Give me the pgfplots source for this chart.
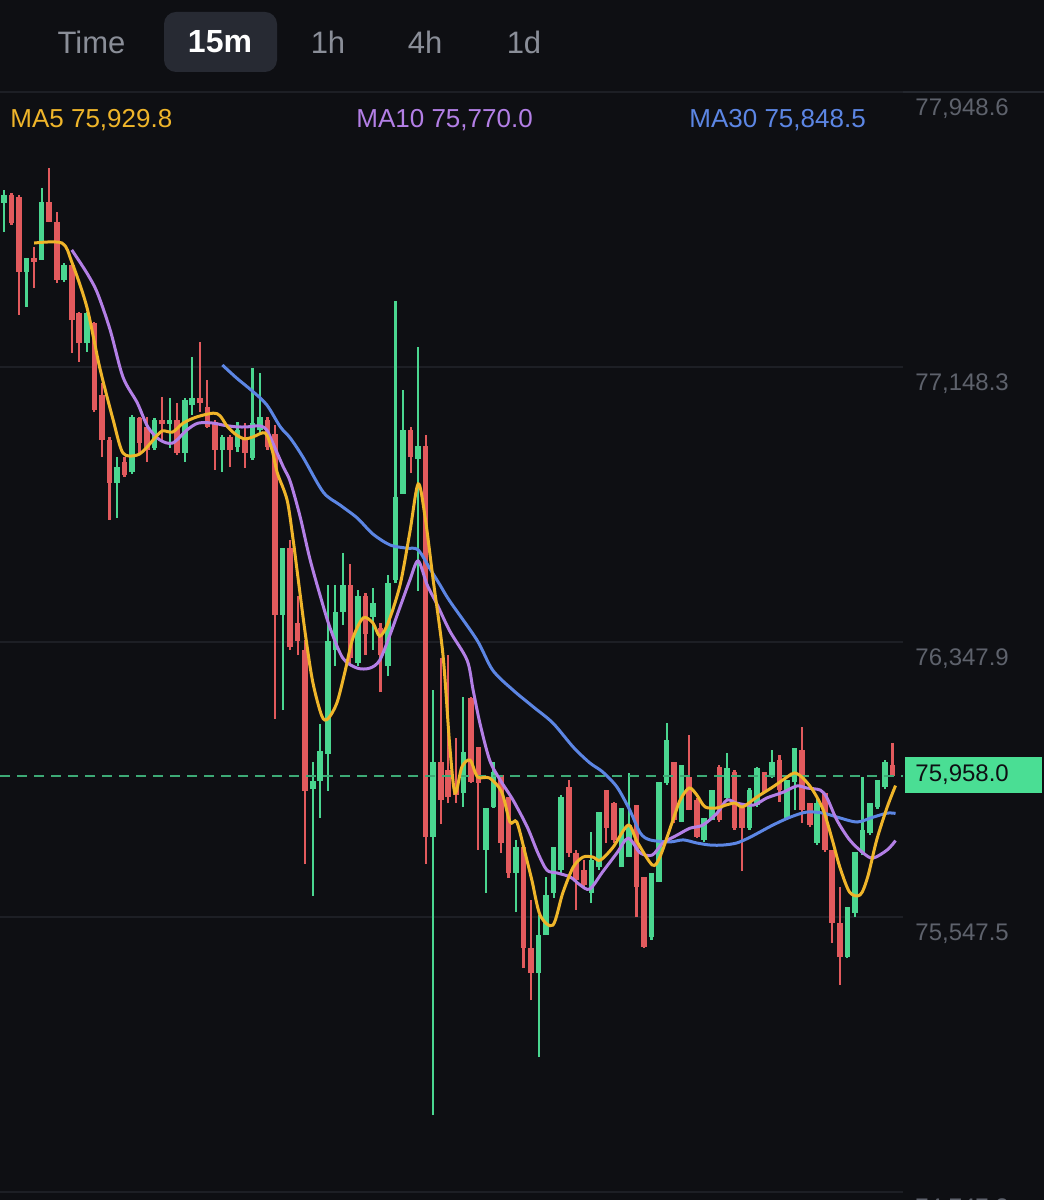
\documentclass[border=0pt]{standalone}
\usepackage{fontspec}
\setmainfont{Liberation Sans}
\usepackage{pgfplots}
\usepackage{pgfplotstable}
\pgfplotsset{compat=1.18}
\definecolor{bg}{HTML}{0E0F13}
\definecolor{gridc}{HTML}{1D1F25}
\definecolor{sepc}{HTML}{24272E}
\definecolor{tabtext}{HTML}{8A8E98}
\definecolor{tabbox}{HTML}{272A33}
\definecolor{labc}{HTML}{5E626C}
\definecolor{cgreen}{HTML}{4AD690}
\definecolor{cred}{HTML}{E25A5D}
\definecolor{cyellow}{HTML}{EFB52A}
\definecolor{cpurple}{HTML}{B37FE6}
\definecolor{cblue}{HTML}{5C86E4}
\definecolor{dashc}{HTML}{3DAA76}
\definecolor{boxc}{HTML}{4ADE94}

\pgfplotstableread{
i O H L C
0 77626 77664 77541 77649
3 77425 77466 77323 77466
5 77460 77669 77460 77629
8 77402 77451 77396 77445
11 77218 77308 77192 77305
15 76811 76886 76709 76857
17 76843 77009 76837 77003
20 76913 77000 76907 76994
22 76982 77058 76913 76994
24 76898 77058 76872 77052
25 77038 77177 77009 77058
29 76907 76950 76843 76945
31 76915 76988 76901 76965
33 76883 77145 76878 76985
34 76965 77131 76956 77003
37 76426 76621 76150 76621
41 75920 75999 75609 75943
42 75943 76109 75836 76031
43 76022 76514 75914 76351
44 76325 76514 76278 76435
45 76435 76607 76397 76514
47 76287 76499 76278 76482
49 76421 76505 76325 76461
51 76278 76543 76249 76520
52 76528 77340 76520 76770
53 76779 77081 76779 76965
55 76881 77207 76496 76918
57 75780 76208 74971 75999
61 75908 76188 75868 76028
64 75743 75865 75617 75865
65 75868 75999 75865 75970
68 75676 75772 75562 75751
71 75384 75553 75140 75495
72 75495 75664 75495 75612
73 75617 75751 75603 75751
74 75684 75903 75676 75897
78 75617 75795 75588 75713
79 75693 75853 75684 75853
82 75693 75865 75693 75865
83 75722 75967 75722 75815
86 75489 75676 75481 75676
87 75649 75940 75649 75940
88 75938 76112 75932 76063
90 75824 75990 75824 75990
93 75772 75836 75766 75836
94 75830 75917 75830 75917
96 75894 76025 75888 75981
99 75807 75923 75801 75917
100 75873 75984 75868 75981
102 75955 76034 75952 75999
104 75836 75946 75836 75946
105 75940 76039 75859 76039
108 75763 75897 75757 75879
112 75431 75577 75428 75577
113 75559 75737 75548 75737
114 75734 75955 75728 75801
115 75792 75879 75786 75879
116 75868 75946 75862 75946
117 75926 76004 75920 75999
}\greenc

\pgfplotstableread{
i O H L C
1 77649 77655 77562 77567
2 77643 77649 77300 77425
4 77466 77498 77378 77454
6 77629 77727 77570 77570
7 77570 77600 77393 77402
9 77445 77445 77189 77285
10 77305 77308 77163 77218
12 77276 77279 77017 77023
13 77067 77102 76886 76936
14 76936 76945 76703 76811
16 76872 76886 76828 76834
18 77000 77003 76898 76927
19 76974 77003 76872 76907
21 76994 77061 76930 76982
23 76994 77044 76892 76898
26 77058 77221 77017 77044
27 77032 77110 76971 76974
28 76988 76994 76849 76907
30 76945 76950 76857 76907
32 76945 76985 76855 76898
35 76994 77003 76907 76915
36 76953 76980 76124 76426
38 76621 76645 76325 76333
39 76403 76482 76310 76351
40 76325 76354 75702 75914
46 76514 76575 76278 76301
48 76482 76490 76310 76371
50 76389 76403 76202 76310
54 76965 76974 76840 76886
56 76918 76950 75702 75780
58 75999 76301 75818 75888
59 75975 76310 75879 75897
60 75938 76069 75879 75903
62 76185 76188 75938 75940
63 76042 76042 75743 75938
66 75961 75961 75734 75763
67 75897 75897 75661 75676
69 75751 75751 75399 75457
70 75457 75597 75306 75384
75 75926 75946 75722 75734
76 75734 75743 75568 75655
77 75684 75713 75632 75641
80 75917 75917 75763 75807
81 75879 75882 75763 75772
84 75873 75873 75548 75635
85 75664 75664 75457 75460
89 75999 75999 75821 75830
91 75955 76077 75859 75859
92 75888 75894 75778 75780
95 75984 75990 75824 75830
97 75970 75975 75801 75807
98 75865 75873 75681 75807
101 75970 75970 75908 75911
103 76004 76019 75882 75917
106 76034 76100 75821 75859
107 75879 75879 75809 75815
109 75908 75908 75737 75743
110 75743 75743 75472 75530
111 75530 75635 75350 75431
118 75990 76054 75955 75958
}\redc

\pgfplotsset{
  candle/.style n args={2}{only marks, mark=none, mark size=0pt,
    mark options={draw=none, fill=none, opacity=0}, forget plot,
    error bars/.cd, y dir=plus, y explicit, error mark=none,
    error bar style={draw=#1, line width=#2}},
}

\begin{document}
\begin{tikzpicture}
\useasboundingbox (0,0) rectangle (522pt,600pt);
\clip (0,0) rectangle (522pt,600pt);
\fill[bg] (0,0) rectangle (522pt,600pt);
% header tabs
\fill[tabbox, rounded corners=6pt] (82pt,564pt) rectangle (138.5pt,594pt);
\node[text=tabtext, font=\fontsize{15.5}{18}\selectfont] at (45.75pt,579pt) {Time};
\node[text=white, font=\fontsize{16}{18}\selectfont\bfseries] at (110pt,579pt) {15m};
\node[text=tabtext, font=\fontsize{15.5}{18}\selectfont] at (164pt,579pt) {1h};
\node[text=tabtext, font=\fontsize{15.5}{18}\selectfont] at (212.5pt,579pt) {4h};
\node[text=tabtext, font=\fontsize{15.5}{18}\selectfont] at (262pt,579pt) {1d};
\draw[sepc, line width=0.8pt] (0,554pt) -- (522pt,554pt);
% MA labels
\node[anchor=west, inner sep=0pt, text=cyellow, font=\fontsize{13}{15}\selectfont] at (5pt,540pt) {MA5 75,929.8};
\node[anchor=west, inner sep=0pt, text=cpurple, font=\fontsize{13}{15}\selectfont] at (178pt,540pt) {MA10 75,770.0};
\node[anchor=west, inner sep=0pt, text=cblue, font=\fontsize{13}{15}\selectfont] at (344.5pt,540pt) {MA30 75,848.5};

\begin{axis}[
  at={(0pt,0pt)}, anchor=south west,
  scale only axis, width=451.5pt, height=554pt,
  xmin=-0.53, xmax=119.39, ymin=74724, ymax=77948.6,
  axis line style={draw=none},
  xtick=\empty,
  scaled y ticks=false,
  ytick={74747.2,75547.5,76347.9,77148.3,77948.6},
  yticklabels={{74,747.2},{75,547.5},{76,347.9},{77,148.3},{77,948.6}},
  ymajorgrids, grid style={gridc, line width=0.7pt},
  major tick length=0pt,
  yticklabel pos=right,
  yticklabel shift=6pt,
  yticklabel style={anchor=west, inner sep=0pt, yshift=-8.5pt, text=labc, font=\fontsize{12}{14}\selectfont},
  clip=true,
]
% wicks
\addplot[candle={cgreen}{1.1pt}] table[x=i, y=L, y error plus expr=\thisrow{H}-\thisrow{L}] {\greenc};
\addplot[candle={cred}{1.1pt}] table[x=i, y=L, y error plus expr=\thisrow{H}-\thisrow{L}] {\redc};
% bodies
\addplot[candle={cgreen}{2.8pt}] table[x=i, y=O, y error plus expr=\thisrow{C}-\thisrow{O}] {\greenc};
\addplot[candle={cred}{2.8pt}] table[x=i, y=C, y error plus expr=\thisrow{O}-\thisrow{C}] {\redc};
% last price line
\addplot[dashc, line width=1pt, dash pattern=on 5pt off 3.5pt, forget plot] coordinates {(-0.53,75958) (119.39,75958)};
% MA30
\addplot[cblue, line width=1.5pt, smooth, tension=0.5] coordinates {
(29.0,77154) (30.9,77116) (33.1,77076) (34.9,77038) (36.7,76974) (38.0,76942) (39.7,76886) (42.4,76784) (44.6,76747) (46.9,76709) (49.0,76662) (51.3,76630) (53.5,76621) (55.0,76616) (56.6,76560) (57.9,76514) (59.2,76467) (62.8,76354) (64.9,76266) (67.6,76208) (70.3,76159) (72.9,76112) (75.6,76042) (77.8,75996) (79.5,75970) (81.4,75926) (83.1,75859) (84.5,75792) (85.8,75772) (88.4,75766) (90.2,75772) (92.0,75763) (93.8,75757) (95.5,75757) (97.3,75763) (99.1,75780) (102.1,75815) (104.4,75838) (106.6,75853) (108.8,75850) (111.0,75836) (113.3,75824) (115.4,75838) (117.3,75850) (118.4,75849)
};
% MA10
\addplot[cpurple, line width=1.5pt, smooth, tension=0.5] coordinates {
(9.0,77489) (11.0,77422) (12.4,77364) (14.1,77256) (15.8,77119) (17.7,77044) (19.1,76974) (20.7,76936) (22.4,76927) (24.3,76965) (25.8,76985) (27.8,76985) (29.1,76979) (30.9,76974) (32.3,76974) (34.0,76977) (34.9,76965) (35.7,76927) (37.1,76857) (38.0,76816) (39.3,76715) (40.6,76592) (42.0,76482) (43.3,76389) (45.0,76301) (46.9,76272) (48.6,76272) (49.9,76295) (51.3,76371) (52.6,76450) (53.9,76528) (55.0,76584) (56.2,76514) (57.5,76458) (59.2,76380) (61.5,76295) (62.3,76208) (63.2,76112) (64.5,76004) (65.9,75946) (67.6,75888) (69.5,75809) (70.9,75734) (72.1,75684) (73.4,75676) (75.2,75664) (76.5,75641) (77.8,75629) (79.5,75679) (81.4,75734) (82.9,75777) (84.5,75734) (86.1,75728) (87.5,75763) (89.4,75786) (91.1,75806) (92.8,75815) (94.7,75850) (96.0,75888) (97.3,75879) (99.5,75873) (101.3,75894) (103.5,75911) (105.3,75929) (106.6,75923) (108.4,75917) (109.3,75894) (110.6,75830) (112.3,75772) (114.1,75734) (115.4,75719) (117.3,75743) (118.4,75770)
};
% MA5
\addplot[cyellow, line width=1.5pt, smooth, tension=0.5] coordinates {
(4.0,77509) (7.7,77509) (9.0,77454) (11.0,77323) (12.7,77148) (14.5,76994) (15.8,76898) (17.7,76892) (19.0,76915) (19.8,76936) (21.0,76962) (22.4,76959) (23.8,76985) (25.6,77003) (27.8,77014) (28.7,77006) (29.7,76974) (30.9,76950) (32.0,76939) (33.1,76945) (34.7,76956) (35.6,76907) (36.3,76840) (37.6,76761) (38.4,76645) (38.9,76560) (40.0,76374) (41.0,76232) (42.2,76133) (43.0,76124) (44.2,76170) (45.3,76263) (46.3,76357) (47.7,76418) (49.0,76403) (49.9,76365) (51.0,76403) (52.6,76514) (53.9,76668) (55.0,76808) (55.9,76715) (57.0,76528) (58.3,76310) (59.2,76045) (59.9,75908) (60.8,75984) (61.9,76004) (62.9,75955) (64.5,75952) (66.1,75911) (67.2,75824) (68.1,75824) (69.2,75734) (70.1,75655) (71.2,75553) (72.9,75524) (74.2,75617) (75.6,75693) (76.9,75722) (78.2,75722) (79.2,75713) (80.9,75751) (82.9,75815) (84.1,75766) (86.1,75699) (87.1,75722) (88.7,75821) (89.8,75888) (91.0,75923) (92.0,75903) (93.1,75868) (94.7,75865) (95.8,75873) (97.1,75879) (98.1,75868) (100.0,75897) (102.1,75926) (104.0,75955) (105.0,75967) (106.1,75952) (107.4,75917) (108.8,75859) (110.0,75772) (111.0,75693) (112.3,75620) (113.7,75612) (114.7,75664) (115.9,75772) (117.3,75868) (118.4,75930)
};
\end{axis}
% last price box
\fill[boxc] (452.5pt,203.5pt) rectangle (521pt,221.5pt);
\node[anchor=west, inner sep=0pt, text=bg, font=\fontsize{12}{14}\selectfont] at (457.5pt,212.5pt) {75,958.0};
\end{tikzpicture}
\end{document}
